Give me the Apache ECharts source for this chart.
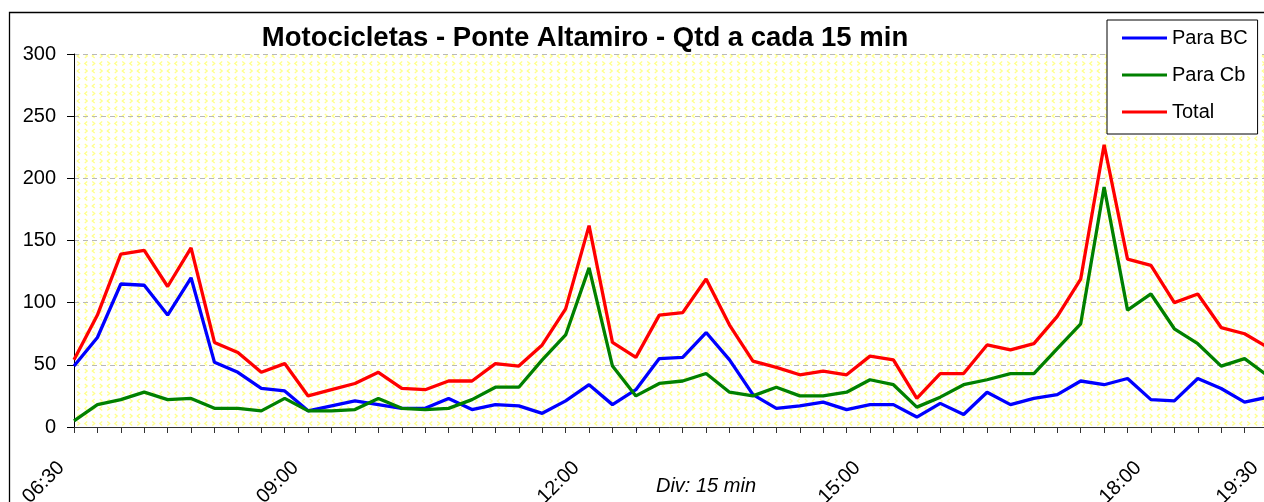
<!DOCTYPE html>
<html>
<head>
<meta charset="utf-8">
<script src="https://cdn.jsdelivr.net/npm/echarts@6/dist/echarts.min.js"></script>
<style>
html,body{margin:0;padding:0;background:#fff;}
#chart{width:1264px;height:502px;}
</style>
</head>
<body>
<div id="chart"></div>
<script>
const titleText = 'Motocicletas - Ponte Altamiro - Qtd a cada 15 min';
const xAxisTitle = 'Div: 15 min';
const categories = [
 '06:30','06:45','07:00','07:15','07:30','07:45','08:00','08:15','08:30','08:45',
 '09:00','09:15','09:30','09:45','10:00','10:15','10:30','10:45','11:00','11:15','11:30','11:45',
 '12:00','12:15','12:30','12:45','13:00','13:15','13:30','13:45','14:00','14:15','14:30','14:45',
 '15:00','15:15','15:30','15:45','16:00','16:15','16:30','16:45','17:00','17:15','17:30','17:45',
 '18:00','18:15','18:30','18:45','19:00','19:30'
];
const tickLabels = ['06:30','09:00','12:00','15:00','18:00','19:30'];
const yTicks = [0, 50, 100, 150, 200, 250, 300];
const seriesNames = ['Para BC', 'Para Cb', 'Total'];
const paraBC = [49,72,115,114,90,120,52,44,31,29,13,17,21,18,15,
 15,23,14,18,17,11,21,34,18,30,55,56,76,54,26,15,17,
 20,14,18,18,8,19,10,28,18,23,26,37,34,39,22,21,39,31,20,24];
const paraCb = [5,18,22,28,22,23,15,15,13,23,13,13,14,23,15,
 14,15,22,32,32,54,74,128,49,25,35,37,43,28,25,32,25,
 25,28,38,34,16,24,34,38,43,43,63,83,193,94,107,79,67,49,55,41];
const total = [54,90,139,142,113,144,68,60,44,51,25,30,35,44,31,
 30,37,37,51,49,66,95,162,68,56,90,92,119,82,53,48,42,
 45,42,57,54,23,43,43,66,62,67,89,119,227,135,130,100,107,80,75,64];

const FONT = "'Liberation Sans', Arial, sans-serif";

// background pattern tile (pale yellow chevrons)
function makeTile() {
  const c = document.createElement('canvas');
  c.width = 15; c.height = 15;
  const g = c.getContext('2d');
  g.fillStyle = '#ffffff';
  g.fillRect(0, 0, 15, 15);
  g.strokeStyle = '#ffff8c';
  g.lineWidth = 1.3;
  function chev(x, y, dir) {
    g.beginPath();
    g.moveTo(x - dir * 1.2, y - 2);
    g.lineTo(x + dir * 1.2, y);
    g.lineTo(x - dir * 1.2, y + 2);
    g.stroke();
  }
  chev(3.5, 3.5, 1); chev(11, 3.5, -1);
  chev(3.5, 11, -1); chev(11, 11, 1);
  return c;
}

const chart = echarts.init(document.getElementById('chart'), null, {renderer: 'canvas'});
const option = {
  backgroundColor: '#ffffff',
  animation: false,
  textStyle: {fontFamily: FONT},
  grid: {
    left: 74, top: 54, right: -4, bottom: 75,
    outerBoundsMode: 'none', containLabel: false,
    show: true, borderWidth: 0,
    backgroundColor: {image: makeTile(), repeat: 'repeat'}
  },
  graphic: [
    {type: 'rect', z: -10, silent: true,
     shape: {x: 9.5, y: 12.5, width: 1400, height: 700},
     style: {fill: 'none', stroke: '#000', lineWidth: 1.3}},
    {type: 'text', z: 10, x: 585, y: 38,
     style: {text: titleText, font: "bold 27.5px " + FONT, fill: '#000', textAlign: 'center', textVerticalAlign: 'middle'}},
    {type: 'text', z: 10, x: 706, y: 486,
     style: {text: xAxisTitle, font: "italic 20px " + FONT, fill: '#000', textAlign: 'center', textVerticalAlign: 'middle'}}
  ],
  legend: {
    left: 1107, top: 20, orient: 'vertical',
    data: seriesNames,
    icon: 'rect', itemWidth: 45, itemHeight: 3, itemGap: 17, itemTextGap: 6,
    padding: [8, 10, 12, 15],
    backgroundColor: '#ffffff', borderColor: '#000', borderWidth: 1,
    textStyle: {fontSize: 20, color: '#000', fontFamily: FONT}
  },
  xAxis: {
    type: 'category', data: categories, boundaryGap: false,
    axisLine: {show: true, lineStyle: {color: '#333', width: 1}},
    axisTick: {show: true, interval: 0, length: 6, lineStyle: {color: '#333'}},
    axisLabel: {
      interval: (i, v) => tickLabels.includes(v),
      rotate: 45, margin: 25, padding: [0, 18, 0, 0],
      fontSize: 20, color: '#000', fontFamily: FONT
    },
    splitLine: {show: false}
  },
  yAxis: {
    type: 'value', min: yTicks[0], max: yTicks[yTicks.length - 1], interval: 50,
    axisLine: {show: true, lineStyle: {color: '#000', width: 1}},
    axisTick: {show: true, length: 7, lineStyle: {color: '#000'}},
    axisLabel: {margin: 18, fontSize: 20, color: '#000', fontFamily: FONT},
    splitLine: {show: true, lineStyle: {color: '#b8b8b8', type: [5, 4], width: 1}}
  },
  series: [
    {name: seriesNames[0], type: 'line', data: paraBC, showSymbol: false, symbol: 'none',
     lineStyle: {color: '#0000ff', width: 3.3}, itemStyle: {color: '#0000ff'}},
    {name: seriesNames[1], type: 'line', data: paraCb, showSymbol: false, symbol: 'none',
     lineStyle: {color: '#008000', width: 3.3}, itemStyle: {color: '#008000'}},
    {name: seriesNames[2], type: 'line', data: total, showSymbol: false, symbol: 'none',
     lineStyle: {color: '#ff0000', width: 3.3}, itemStyle: {color: '#ff0000'}}
  ]
};
chart.setOption(option);
</script>
</body>
</html>
